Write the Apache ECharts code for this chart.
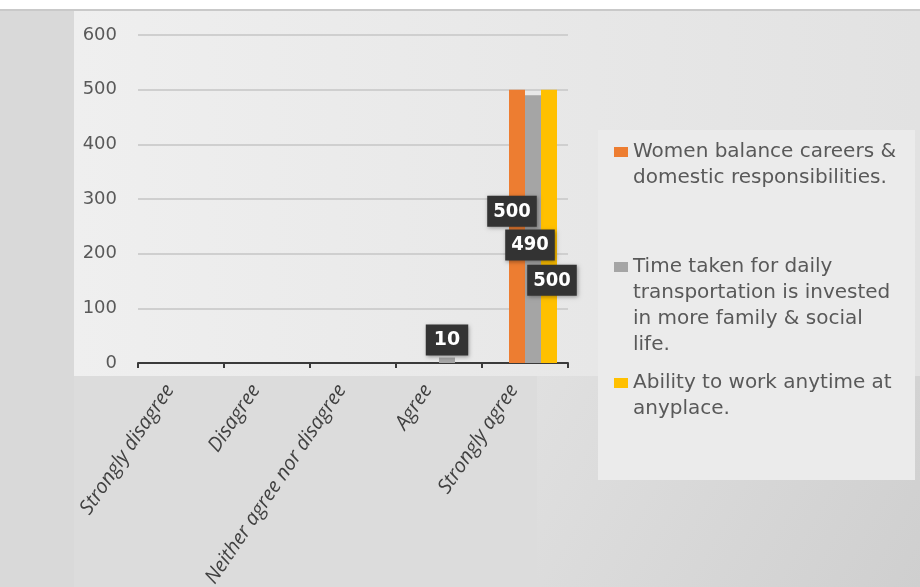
<!DOCTYPE html>
<html>
<head>
<meta charset="utf-8">
<script src="https://cdn.jsdelivr.net/npm/echarts@6/dist/echarts.min.js"></script>
<style>html,body{margin:0;padding:0;background:#fff}#c{width:920px;height:587px}</style>
</head>
<body>
<div id="c"></div>
<script>
const categories = ['Strongly disagree', 'Disagree', 'Neither agree nor disagree', 'Agree', 'Strongly agree'];
const seriesNames = [
  'Women balance careers & domestic responsibilities.',
  'Time taken for daily transportation is invested in more family & social life.',
  'Ability to work anytime at anyplace.'
];
const legendLines = [
  ['Women balance careers &', 'domestic responsibilities.'],
  ['Time taken for daily', 'transportation is invested', 'in more family & social', 'life.'],
  ['Ability to work anytime at', 'anyplace.']
];
const womenBalance = [null, null, null, null, 500];
const timeTransport = [null, null, null, 10, 490];
const workAnytime = [null, null, null, null, 500];
const yTicks = [0, 100, 200, 300, 400, 500, 600];

const colors = ['#ED7D31', '#A5A5A5', '#FFC000'];
const LH = 26;
const legendFirstLineY = [152, 267, 383];
const labelOffsets = [[-5, -15], [-3, 16], [3, 54]];
const FONT = '"DejaVu Sans", "Open Sans", sans-serif';
const NARROW = '"Liberation Sans Narrow", "DejaVu Sans Condensed", "Open Sans", sans-serif';

const chart = echarts.init(document.getElementById('c'));

function labelStyle(off) {
  return {
    show: true,
    position: 'inside',
    offset: off,
    color: '#ffffff',
    fontFamily: NARROW,
    fontWeight: 'bold',
    fontSize: 20,
    lineHeight: 22,
    backgroundColor: '#333333',
    padding: [5, 6, 4, 6],
    shadowColor: 'rgba(0,0,0,0.35)',
    shadowBlur: 4,
    shadowOffsetX: 1,
    shadowOffsetY: 1
  };
}

const dataSets = [womenBalance, timeTransport, workAnytime];
const barSeries = dataSets.map((arr, si) => ({
  name: seriesNames[si],
  type: 'bar',
  barWidth: 16,
  barGap: '0%',
  itemStyle: { color: colors[si] },
  label: labelStyle(labelOffsets[si]),
  data: arr.map((v, i) => {
    if (si === 1 && i === 3) {
      return { value: v, label: Object.assign(labelStyle([0, 0]), {
        position: 'top', distance: 2, fontFamily: FONT, fontSize: 19, padding: [5, 8, 4, 8] }) };
    }
    return v;
  })
}));

const legends = seriesNames.map((n, i) => {
  const L = legendLines[i].length;
  const N = 2 * L - 1;
  return {
    data: [n],
    left: 609,
    top: legendFirstLineY[i] - N * LH / 2 - 5,
    orient: 'vertical',
    icon: 'rect',
    itemWidth: 14,
    itemHeight: 10,
    selectedMode: false,
    formatter: () => '\n'.repeat(L - 1) + legendLines[i].join('\n'),
    textStyle: {
      fontFamily: FONT,
      fontSize: 20,
      color: '#595959',
      lineHeight: LH
    }
  };
});

const option = {
  backgroundColor: '#dedede',
  animation: false,
  graphic: [
    { type: 'rect', z: -10, silent: true, shape: { x: 0, y: 0, width: 920, height: 9 }, style: { fill: '#ffffff' } },
    { type: 'rect', z: -10, silent: true, shape: { x: 0, y: 9, width: 920, height: 2 }, style: { fill: '#c9c9c9' } },
    { type: 'rect', z: -10, silent: true, shape: { x: 0, y: 11, width: 74, height: 576 }, style: { fill: '#d9d9d9' } },
    { type: 'rect', z: -10, silent: true, shape: { x: 74, y: 11, width: 846, height: 365 },
      style: { fill: new echarts.graphic.LinearGradient(0, 0, 1, 0, [{ offset: 0, color: '#efefef' }, { offset: 1, color: '#e2e2e2' }]) } },
    { type: 'rect', z: -10, silent: true, shape: { x: 74, y: 376, width: 463, height: 211 }, style: { fill: '#dcdcdc' } },
    { type: 'rect', z: -10, silent: true, shape: { x: 537, y: 376, width: 383, height: 211 },
      style: { fill: new echarts.graphic.LinearGradient(0, 0, 1, 1, [{ offset: 0, color: '#e0e0e0' }, { offset: 1, color: '#cfcfcf' }]) } },
    { type: 'rect', z: -9, silent: true, shape: { x: 598, y: 130, width: 317, height: 350 }, style: { fill: '#ebebeb' } }
  ],
  grid: { left: 138, right: 352, top: 35, bottom: 224, containLabel: false, outerBoundsMode: 'none' },
  legend: legends,
  xAxis: {
    type: 'category',
    data: categories,
    axisLine: { lineStyle: { color: '#3a3a3a', width: 2 } },
    axisTick: { show: true, length: 5, lineStyle: { color: '#3a3a3a', width: 2 } },
    axisLabel: {
      rotate: 56,
      interval: 0,
      margin: 7,
      padding: [0, 20, 0, 0],
      fontFamily: '"Open Sans", sans-serif',
      fontStyle: 'italic',
      fontSize: 20,
      color: '#404040'
    }
  },
  yAxis: {
    type: 'value',
    min: yTicks[0],
    max: yTicks[yTicks.length - 1],
    interval: 100,
    axisLine: { show: false },
    axisTick: { show: false },
    axisLabel: { fontFamily: FONT, fontSize: 18, color: '#595959', margin: 21 },
    splitLine: { lineStyle: { color: '#cfcfcf', width: 2 } }
  },
  series: [{ name: 'spacer', type: 'bar', barWidth: 16, barGap: '0%', data: [], silent: true }].concat(barSeries)
};
chart.setOption(option);
</script>
</body>
</html>
